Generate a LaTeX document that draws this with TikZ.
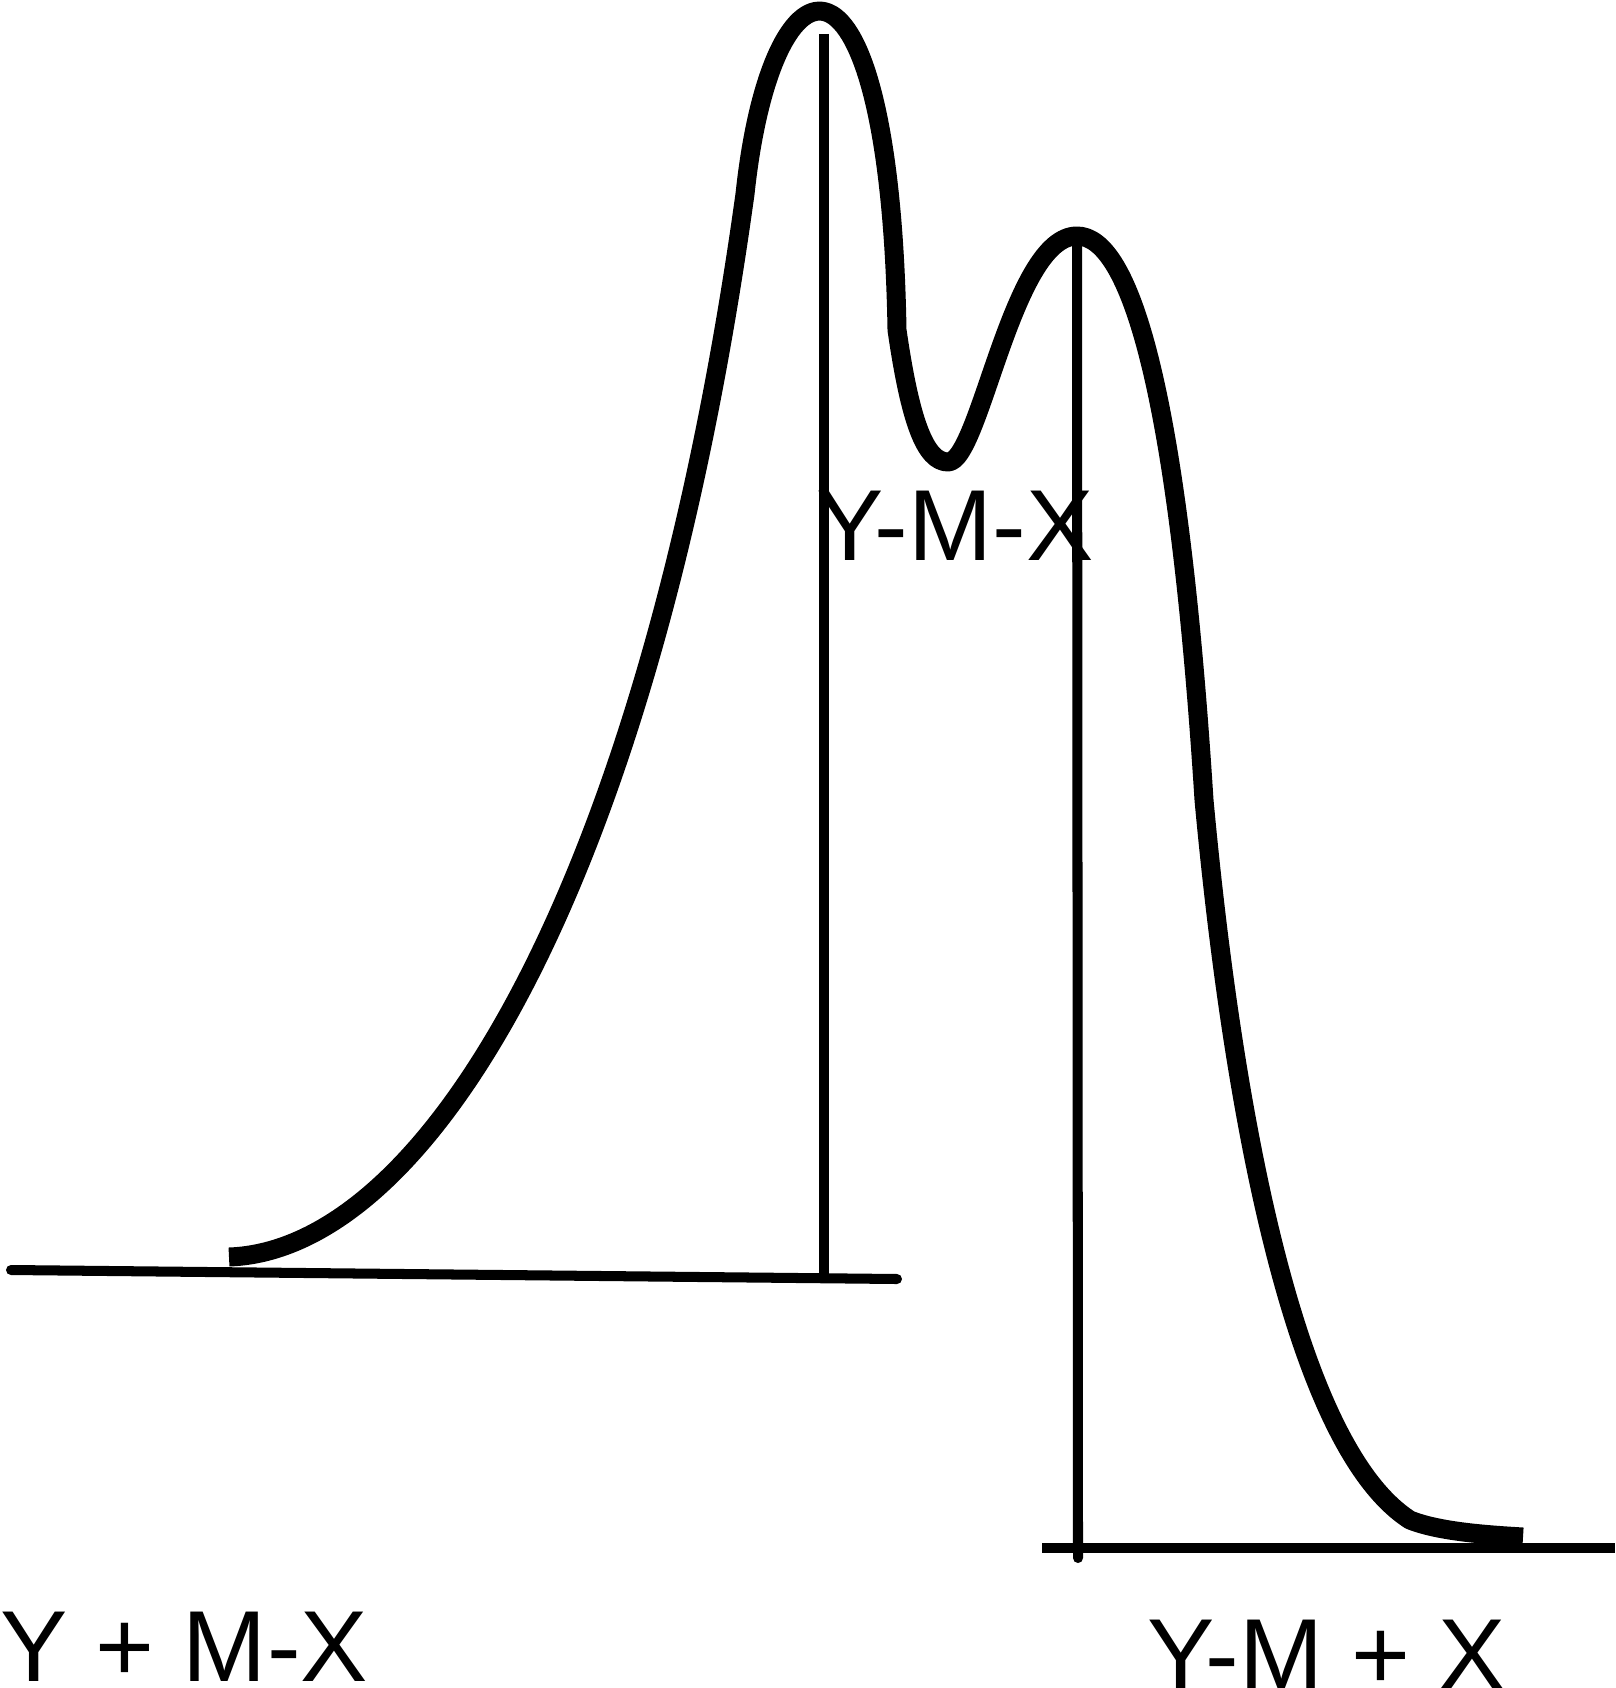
\documentclass[tikz,border=0pt]{standalone}
\usepackage{fontspec}
\setmainfont{Liberation Sans}
\usetikzlibrary{positioning}

\begin{document}
\begin{tikzpicture}[x=0.01cm,y=-0.01cm,
    thinline/.style={line width=2.85pt},
    peakline/.style={line width=5.4pt, line join=round},
    species/.style={anchor=base west, inner sep=0pt, font=\fontsize{28.7}{30}\selectfont}]
    \useasboundingbox (0,0) rectangle (1615,1688);

    % base lines and peak markers
    \coordinate (lb1) at (11,1270);
    \coordinate (lb2) at (897,1279);
    \coordinate (rb1) at (1042,1548);
    \coordinate (rb2) at (1615,1548);
    \coordinate (ltop) at (824,34);
    \coordinate (lbot) at (824,1274);
    \coordinate (rtop) at (1077,239);
    \coordinate (rbot) at (1078,1558);

    \draw [thinline,line cap=round] (lb1) -- (lb2);
    \draw [thinline] (rb1) -- (rb2);
    \draw [thinline] (ltop) -- (lbot);
    \draw [thinline,line cap=round] (rtop) -- (rbot);

    % the two peaks
    \coordinate (start) at (229,1257);
    \coordinate (bend1) at (745,194);
    \coordinate (bend2) at (897,330);
    \coordinate (dip) at (948,462);
    \coordinate (peak2) at (1077,236);
    \coordinate (bend3) at (1204,800);
    \coordinate (bend4) at (1410,1520);
    \coordinate (tail) at (1523,1537);

    \draw [peakline] (start)
        .. controls (430,1250) and (650,880) .. (bend1)
        .. controls (772,-60) and (890,-80) .. (bend2)
        .. controls (910,420) and (925,462) .. (dip)
        .. controls (980,462) and (1012,236) .. (peak2)
        .. controls (1130,236) and (1178,390) .. (bend3)
        .. controls (1228,1060) and (1285,1440) .. (bend4)
        .. controls (1440,1532) and (1490,1535) .. (tail);

    % species
    \node [species] (reactants) at (0,1681) {Y + M-X};
    \node [species] (complex) at (816,560) {Y-M-X};
    \node [species] (products) at (1147,1689) {Y-M + X};
\end{tikzpicture}
\end{document}
